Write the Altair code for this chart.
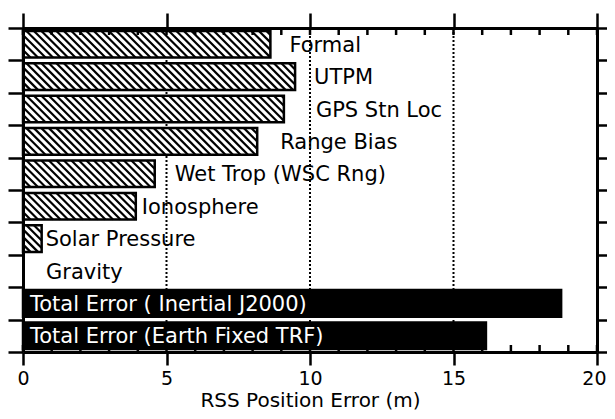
import altair as alt
import pandas as pd

# ---- data ----
categories = [
    "Formal", "UTPM", "GPS Stn Loc", "Range Bias", "Wet Trop (WSC Rng)",
    "Ionosphere", "Solar Pressure", "Gravity",
    "Total Error ( Inertial J2000)", "Total Error (Earth Fixed TRF)",
]
values = [8.62, 9.48, 9.09, 8.16, 4.59, 3.93, 0.65, 0.0, 18.75, 16.13]
kinds = ["hatched"] * 8 + ["total"] * 2
grid_values = [5, 10, 15]
major_ticks = [0, 5, 10, 15, 20]
minor_ticks = list(range(0, 21))
row_edges = list(range(0, 11))

# ---- styling / layout ----
label_offset_px = [19, 19, 32, 23, 20, 6, 4, 23, 7, 7]
W, H = 574, 324
PX_PER_M = W / 20
ROW_PX = H / 10
INSET = 0.09
HATCH_SPACING = 7.5
FONT = "DejaVu Sans"

rows = []
for i, (c, v, k, off) in enumerate(zip(categories, values, kinds, label_offset_px)):
    anchor = v if k == "hatched" else 0
    rows.append(dict(cat=c, value=v, kind=k, start=0, top=i + INSET,
                     bottom=i + 1 - INSET, mid=i + 0.55,
                     label_x=anchor + off / PX_PER_M))
bars_df = pd.DataFrame(rows)

# hatch lines ("\\" direction) clipped to each hatched bar
hatch = []
frac = 1 - 2 * INSET
hpx = frac * ROW_PX
for r in rows:
    if r["kind"] != "hatched" or r["value"] <= 0:
        continue
    vpx = r["value"] * PX_PER_M
    a = -hpx
    while a < vpx:
        t0 = max(0.0, (0 - a) / hpx)
        t1 = min(1.0, (vpx - a) / hpx)
        if t1 > t0:
            hatch.append(dict(x=(a + t0 * hpx) / PX_PER_M,
                              x2=(a + t1 * hpx) / PX_PER_M,
                              y=r["top"] + t0 * frac,
                              y2=r["top"] + t1 * frac))
        a += HATCH_SPACING
hatch_df = pd.DataFrame(hatch)

xs = alt.Scale(domain=[0, 20], nice=False, zero=False)
ys = alt.Scale(domain=[0, 10], reverse=True, nice=False, zero=False)

common = dict(domainColor="black", tickColor="black", domainWidth=3,
              tickWidth=2.5, grid=False, zindex=1)

bottom_axis = alt.Axis(
    orient="bottom", values=major_ticks, tickSize=13,
    labelFont=FONT, labelFontSize=19, labelColor="black",
    labelPadding=4, labelFlush=False, format="d",
    labelAlign=alt.condition("datum.value == 20", alt.value("right"), alt.value("center")),
    labelOffset=alt.condition("datum.value == 20", alt.value(9), alt.value(0)),
    title="RSS Position Error (m)", titleFont=FONT,
    titleFontSize=20, titleFontWeight="normal",
    titleColor="black", titlePadding=2, **common)
top_axis = alt.Axis(orient="top", values=major_ticks, tickSize=15,
                    labels=False, title="", **common)
left_axis = alt.Axis(orient="left", values=row_edges, tickSize=15,
                     labels=False, title="", **common)
right_axis = alt.Axis(orient="right", values=row_edges, tickSize=15,
                      labels=False, title="", **common)

grid = alt.Chart(pd.DataFrame({"g": grid_values})).mark_rule(
    color="black", strokeWidth=2, strokeDash=[2, 2]
).encode(x=alt.X("g:Q", scale=xs, axis=None))

bars = alt.Chart(bars_df).transform_filter("datum.value > 0").mark_rect(
    stroke="black", strokeWidth=2.5
).encode(
    x=alt.X("start:Q", scale=xs, axis=bottom_axis),
    x2="value:Q",
    y=alt.Y("top:Q", scale=ys, axis=left_axis),
    y2="bottom:Q",
    fill=alt.Fill("kind:N", scale=alt.Scale(domain=["hatched", "total"],
                                            range=["white", "black"]),
                  legend=None),
)

hatch_layer = alt.Chart(hatch_df).mark_rule(
    color="black", strokeWidth=2.2
).encode(
    x=alt.X("x:Q", scale=xs, axis=top_axis),
    x2="x2:Q",
    y=alt.Y("y:Q", scale=ys, axis=right_axis),
    y2="y2:Q",
)

labels = alt.Chart(bars_df).mark_text(
    align="left", baseline="middle", font=FONT, fontSize=21
).encode(
    x=alt.X("label_x:Q", scale=xs, axis=None),
    y=alt.Y("mid:Q", scale=ys, axis=None),
    text="cat:N",
    color=alt.Color("kind:N", scale=alt.Scale(domain=["hatched", "total"],
                                              range=["black", "white"]),
                    legend=None),
)

minor_df = pd.DataFrame({"t": minor_ticks})
tick_top = alt.Chart(minor_df).mark_rule(color="black", strokeWidth=2.5).encode(
    x=alt.X("t:Q", scale=xs, axis=None), y=alt.value(0), y2=alt.value(7))
tick_bottom = alt.Chart(minor_df).mark_rule(color="black", strokeWidth=2.5).encode(
    x=alt.X("t:Q", scale=xs, axis=None), y=alt.value(H - 7), y2=alt.value(H))

chart = alt.layer(grid, bars, hatch_layer, labels, tick_top, tick_bottom).resolve_axis(
    x="independent", y="independent"
).properties(
    width=W, height=H,
    autosize=alt.AutoSizeParams(type="none"),
    padding={"left": 15, "top": 20, "right": 10, "bottom": 59},
).configure_view(strokeWidth=0)

chart.save("out.html", embed_options={"renderer": "svg", "actions": False})
